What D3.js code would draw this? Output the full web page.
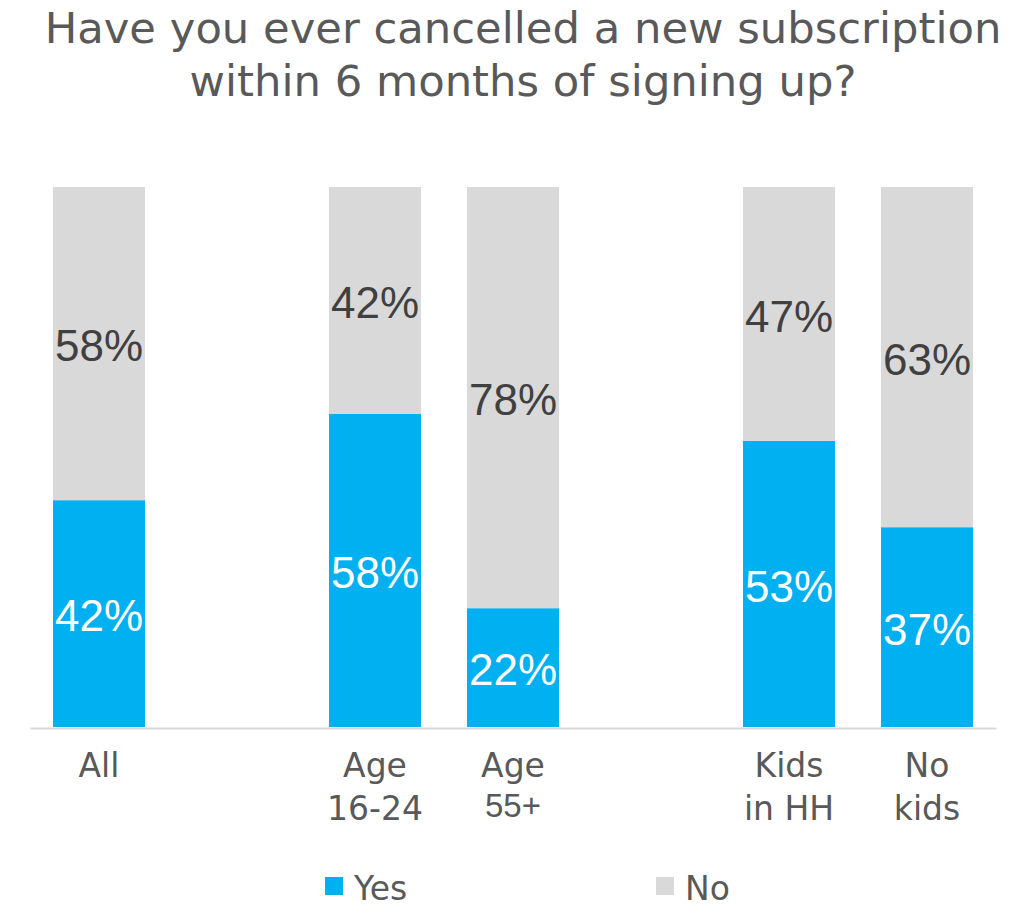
<!DOCTYPE html>
<html>
<head>
<meta charset="utf-8">
<script src="https://cdn.jsdelivr.net/npm/d3@7"></script>
<style>
  html, body { margin: 0; padding: 0; background: #ffffff; }
  svg { display: block; }
</style>
</head>
<body>
<svg id="chart" width="1024" height="918"></svg>
<script>
// ---- Data ----
const titleLines = ["Have you ever cancelled a new subscription", "within 6 months of signing up?"];
const slots = ["All", "gap1", "Age 16-24", "Age 55+", "gap2", "Kids in HH", "No kids"];
const categories = ["All", "Age 16-24", "Age 55+", "Kids in HH", "No kids"];
const categoryLabels = [["All"], ["Age", "16-24"], ["Age", "55+"], ["Kids", "in HH"], ["No", "kids"]];
const yesValues = [42, 58, 22, 53, 37];
const noValues = [58, 42, 78, 47, 63];
const seriesNames = ["Yes", "No"];
const seriesColors = ["#00B0F0", "#D9D9D9"];

// ---- Layout ----
const svg = d3.select("#chart");
const x = d3.scaleBand().domain(slots).range([30, 996]).paddingInner(1/3).paddingOuter(1/6);
const y = d3.scaleLinear().domain([0, 100]).range([727, 187]);
const labelFont = "'Liberation Sans', Arial, sans-serif";
const textFont = "'DejaVu Sans', sans-serif";

// Title
const titleG = svg.append("g");
titleLines.forEach((t, i) => {
  titleG.append("text")
    .attr("x", 523).attr("y", 43 + i * 53)
    .attr("text-anchor", "middle")
    .attr("font-family", textFont)
    .attr("font-size", 44)
    .attr("fill", "#595959")
    .text(t);
});
{
  const first = titleG.select("text").node();
  const len = first.getComputedTextLength();
  const fs = 44 * 957 / len;
  titleG.selectAll("text").attr("font-size", fs);
}

const rows = categories.map((c, i) => ({ cat: c, yes: yesValues[i], no: noValues[i], lines: categoryLabels[i] }));

// Bars
const barG = svg.append("g");
rows.forEach(r => {
  barG.append("rect")
    .attr("x", x(r.cat)).attr("width", x.bandwidth())
    .attr("y", y(r.yes)).attr("height", y(0) - y(r.yes))
    .attr("fill", seriesColors[0]);
  barG.append("rect")
    .attr("x", x(r.cat)).attr("width", x.bandwidth())
    .attr("y", y(r.yes + r.no)).attr("height", y(r.yes) - y(r.yes + r.no))
    .attr("fill", seriesColors[1]);
  barG.append("text")
    .attr("x", x(r.cat) + x.bandwidth() / 2)
    .attr("y", (y(0) + y(r.yes)) / 2)
    .attr("dy", "0.4em")
    .attr("text-anchor", "middle")
    .attr("font-family", labelFont).attr("font-size", 44)
    .attr("fill", "#ffffff")
    .text(r.yes + "%");
  barG.append("text")
    .attr("x", x(r.cat) + x.bandwidth() / 2)
    .attr("y", (y(r.yes) + y(r.yes + r.no)) / 2)
    .attr("dy", "0.4em")
    .attr("text-anchor", "middle")
    .attr("font-family", labelFont).attr("font-size", 44)
    .attr("fill", "#404040")
    .text(r.no + "%");
});

// Axis line
const xAxis = d3.axisBottom(x).tickSize(0).tickFormat("");
const axG = svg.append("g").attr("transform", `translate(0,${y(0) + 1})`).call(xAxis);
axG.select(".domain").attr("stroke", "#D9D9D9").attr("stroke-width", 2);

// Category labels
const catG = svg.append("g");
rows.forEach(r => {
  r.lines.forEach((ln, j) => {
    const isArial = ln === "55+";
    catG.append("text")
      .attr("x", x(r.cat) + x.bandwidth() / 2)
      .attr("y", j === 0 ? 777 : (isArial ? 817 : 820))
      .attr("text-anchor", "middle")
      .attr("font-family", isArial ? labelFont : textFont)
      .attr("font-size", isArial ? 33 : 33)
      .attr("fill", "#595959")
      .text(ln);
  });
});

// Legend
const legendX = [325, 656];
const legG = svg.append("g");
seriesNames.forEach((s, i) => {
  legG.append("rect")
    .attr("x", legendX[i]).attr("y", 877)
    .attr("width", 18).attr("height", 18)
    .attr("fill", seriesColors[i]);
  legG.append("text")
    .attr("x", legendX[i] + 29).attr("y", 900)
    .attr("font-family", textFont).attr("font-size", 33)
    .attr("fill", "#595959")
    .text(s);
});
</script>
</body>
</html>
